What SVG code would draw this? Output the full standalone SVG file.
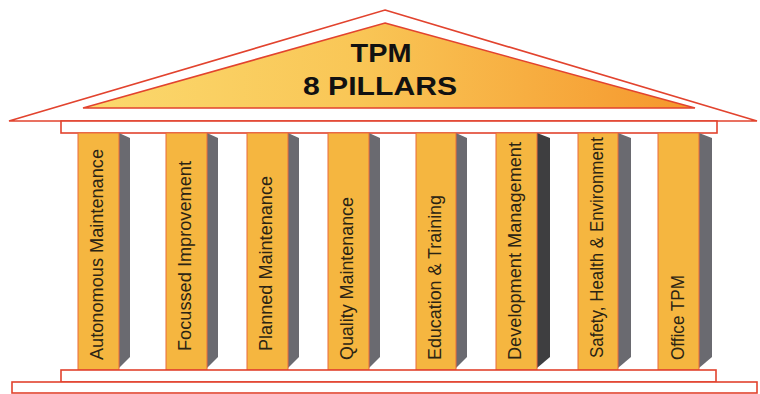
<svg xmlns="http://www.w3.org/2000/svg" width="760" height="394" viewBox="0 0 760 394">
  <defs>
    <linearGradient id="roofGrad" x1="83" y1="0" x2="695" y2="0" gradientUnits="userSpaceOnUse">
      <stop offset="0" stop-color="#fbd96e"/>
      <stop offset="0.45" stop-color="#f9c656"/>
      <stop offset="1" stop-color="#f5962c"/>
    </linearGradient>
    <style>
      .line { fill: #ffffff; stroke: #e2432e; stroke-width: 1.6; stroke-linejoin: miter; }
      .col { fill: #f5b640; stroke: #ea6a3a; stroke-width: 1; }
      .shade { fill: #6a6a70; }
      .shade.dark { fill: #3e3e40; }
      .lbl { font-family: "Liberation Sans", Arial, sans-serif; font-size: 17.5px; fill: #2b2414; }
      .title { font-family: "Liberation Sans", Arial, sans-serif; font-size: 25px; font-weight: bold; fill: #111111; text-anchor: middle; }
    </style>
  </defs>

  <g id="roof">
    <polygon class="line" points="385,10 757,121 9,121"/>
    <polygon points="385,23 695,108 83,108" fill="url(#roofGrad)" stroke="#e2432e" stroke-width="1.6"/>
    <text class="title" x="381" y="62" textLength="61" lengthAdjust="spacingAndGlyphs">TPM</text>
    <text class="title" x="380" y="95" textLength="154" lengthAdjust="spacingAndGlyphs">8 PILLARS</text>
  </g>

  <g id="entablature">
    <rect class="line" x="61" y="121" width="656" height="12"/>
  </g>

  <g id="pillar-1">
    <polygon class="shade" points="119,133 130,138 130,357 119,368"/>
    <rect class="col" x="78" y="133" width="41" height="237"/>
    <text class="lbl" transform="translate(103,360) rotate(-90)" textLength="211" lengthAdjust="spacingAndGlyphs">Autonomous Maintenance</text>
  </g>
  <g id="pillar-2">
    <polygon class="shade" points="207,133 218,138 218,357 207,368"/>
    <rect class="col" x="166" y="133" width="41" height="237"/>
    <text class="lbl" transform="translate(191,351) rotate(-90)" textLength="190" lengthAdjust="spacingAndGlyphs">Focussed Improvement</text>
  </g>
  <g id="pillar-3">
    <polygon class="shade" points="288,133 299,138 299,357 288,368"/>
    <rect class="col" x="247" y="133" width="41" height="237"/>
    <text class="lbl" transform="translate(272,351) rotate(-90)" textLength="175" lengthAdjust="spacingAndGlyphs">Planned Maintenance</text>
  </g>
  <g id="pillar-4">
    <polygon class="shade" points="369,133 380,138 380,357 369,368"/>
    <rect class="col" x="328" y="133" width="41" height="237"/>
    <text class="lbl" transform="translate(353,360) rotate(-90)" textLength="163" lengthAdjust="spacingAndGlyphs">Quality Maintenance</text>
  </g>
  <g id="pillar-5">
    <polygon class="shade" points="456,133 467,138 467,357 456,368"/>
    <rect class="col" x="416" y="133" width="40" height="237"/>
    <text class="lbl" transform="translate(441,360) rotate(-90)" textLength="165" lengthAdjust="spacingAndGlyphs">Education &amp; Training</text>
  </g>
  <g id="pillar-6">
    <polygon class="shade dark" points="537,133 550,138 550,357 537,368"/>
    <rect class="col" x="496" y="133" width="41" height="237"/>
    <text class="lbl" transform="translate(521,360) rotate(-90)" textLength="218" lengthAdjust="spacingAndGlyphs">Development Management</text>
  </g>
  <g id="pillar-7">
    <polygon class="shade" points="618,133 631,138 631,357 618,368"/>
    <rect class="col" x="578" y="133" width="40" height="237"/>
    <text class="lbl" transform="translate(603,358) rotate(-90)" textLength="221" lengthAdjust="spacingAndGlyphs">Safety, Health &amp; Environment</text>
  </g>
  <g id="pillar-8">
    <polygon class="shade" points="699,133 712,138 712,357 699,368"/>
    <rect class="col" x="658" y="133" width="41" height="237"/>
    <text class="lbl" transform="translate(684,360) rotate(-90)" textLength="85" lengthAdjust="spacingAndGlyphs">Office TPM</text>
  </g>

  <g id="base">
    <rect class="line" x="61" y="370" width="655" height="12"/>
    <rect class="line" x="12" y="382" width="745" height="11"/>
  </g>
</svg>
